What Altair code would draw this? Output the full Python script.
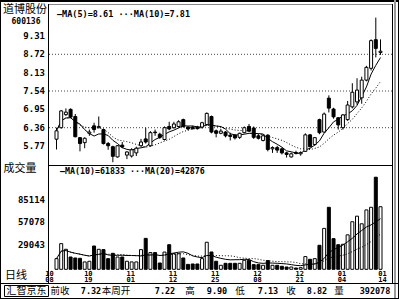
import altair as alt
import pandas as pd

# ---------------- data ----------------
opens = [5.99, 6.36, 6.78, 6.95, 6.72, 6.04, 5.88, 6.18, 6.42, 6.36,
         6.30, 5.85, 5.75, 5.42, 5.80, 5.48, 5.45, 5.55, 5.78, 6.00,
         5.78, 6.22, 6.15, 5.98, 6.40, 6.36, 6.40, 6.62, 6.38, 6.38,
         6.38, 6.38, 6.46, 6.72, 6.26, 6.18, 6.22, 6.12, 6.12, 6.05,
         6.20, 6.40, 6.35, 6.10, 5.95, 6.12, 5.68, 5.72, 5.68, 5.55,
         5.42, 5.56, 5.52, 5.60, 6.13, 5.82, 6.62, 6.22, 7.31, 6.96,
         6.68, 6.36, 6.62, 7.03, 7.19, 7.32, 7.89, 8.27, 9.19, 8.78]
closes = [6.26, 6.90, 6.86, 6.70, 6.07, 5.85, 6.02, 6.22, 6.30, 6.40,
          5.85, 5.78, 5.44, 5.78, 5.74, 5.58, 5.65, 5.70, 5.90, 5.90,
          6.20, 6.20, 6.05, 6.36, 6.32, 6.48, 6.55, 6.40, 6.32, 6.33,
          6.33, 6.52, 6.82, 6.22, 6.18, 6.25, 6.10, 6.08, 6.03, 6.18,
          6.36, 6.25, 6.05, 6.02, 6.10, 5.66, 5.72, 5.64, 5.55, 5.50,
          5.52, 5.53, 5.56, 6.13, 5.75, 6.04, 6.20, 6.80, 6.99, 6.71,
          6.45, 6.77, 7.09, 7.50, 7.57, 7.89, 8.30, 9.16, 8.91, 8.82]
highs = [6.36, 6.93, 6.98, 6.98, 6.80, 6.06, 6.05, 6.30, 6.52, 6.72,
         6.33, 5.90, 5.78, 5.80, 5.90, 5.60, 5.70, 5.75, 6.00, 6.36,
         6.25, 6.30, 6.20, 6.40, 6.55, 6.55, 6.60, 6.65, 6.40, 6.42,
         6.42, 6.55, 6.85, 6.75, 6.30, 6.32, 6.25, 6.20, 6.15, 6.20,
         6.40, 6.48, 6.40, 6.15, 6.15, 6.15, 5.76, 5.78, 5.72, 5.58,
         5.56, 5.62, 5.60, 6.18, 6.16, 6.06, 6.65, 6.85, 7.40, 7.00,
         6.70, 6.80, 7.22, 7.79, 7.95, 8.00, 8.35, 9.20, 9.90, 9.20]
lows = [5.66, 6.33, 6.74, 6.68, 6.05, 5.60, 5.70, 6.10, 6.20, 6.34,
        5.82, 5.65, 5.25, 5.40, 5.70, 5.35, 5.40, 5.45, 5.75, 5.85,
        5.75, 6.10, 6.00, 5.95, 6.28, 6.33, 6.38, 6.36, 6.28, 6.30,
        6.30, 6.33, 6.42, 6.18, 6.05, 6.15, 6.05, 5.95, 5.98, 6.00,
        6.18, 6.22, 6.00, 5.98, 5.92, 5.60, 5.55, 5.55, 5.50, 5.40,
        5.40, 5.50, 5.46, 5.58, 5.72, 5.78, 6.15, 6.20, 6.85, 6.65,
        6.30, 6.30, 6.58, 6.98, 7.10, 7.13, 7.85, 8.20, 8.62, 8.70]
volumes = [13000, 31300, 24400, 15000, 13800, 13400, 9000, 9800, 28400, 24400,
           24000, 13000, 19500, 15000, 15000, 9800, 9000, 9000, 24000, 37700,
           20400, 20400, 7700, 21000, 30000, 19000, 19000, 13800, 6000, 6500,
           6500, 13000, 33000, 21100, 9800, 4900, 7300, 7300, 7300, 7300,
           11000, 11000, 5700, 5700, 4900, 10600, 4900, 4900, 3700, 2800,
           2800, 1600, 2000, 15500, 12200, 13000, 29300, 49900, 75600, 37400,
           30000, 30500, 42000, 58000, 64800, 55500, 72400, 75600, 112300, 76300]

price_ticks = [9.31, 8.72, 8.13, 7.54, 6.95, 6.36, 5.77]
price_grid = [8.72, 7.54, 6.36]
vol_ticks = [85114, 57078, 29043]

date_idx = [0, 7, 16, 25, 34, 43, 52, 61, 69]
date_month = ["10", "10", "11", "11", "11", "12", "12", "01", "01"]
date_day = ["08", "19", "01", "12", "25", "08", "21", "04", "14"]

stock_name = "道博股份"
stock_code = "600136"
price_legend = "—MA(5)=8.61 ···MA(10)=7.81"
vol_legend = "—MA(10)=61833 ···MA(20)=42876"
status_items = [("前收", 60), ("7.32", 91), ("本周开", 116),
                ("7.22", 165), ("高", 190), ("9.90", 217), ("低", 240),
                ("7.13", 268), ("收", 291), ("8.82", 317), ("量", 339),
                ("392078", 375)]
status_box_text = "汇智京东"

# ---------------- tables ----------------
df = pd.DataFrame({"idx": list(range(len(opens))), "open": opens, "close": closes,
                   "high": highs, "low": lows, "vol": volumes})
df["up"] = df["close"] >= df["open"]

NUM = "DejaVu Sans Mono"
CJK = "Noto Sans CJK SC"

XS = alt.Scale(domain=[0, 69], range=[51.5, 385.5], zero=False, nice=False)
PY = alt.Scale(domain=[5.77, 9.31], range=[146.05, 35.96], zero=False, nice=False)
VY = alt.Scale(domain=[0, 85114], range=[269.3, 199.5], zero=False, nice=False)

x_enc = alt.X("idx:Q", scale=XS, axis=None)
base = alt.Chart(df)

# ---------------- price panel ----------------
grid = alt.Chart(pd.DataFrame({"p": price_grid})).mark_rule(
    color="#444", strokeWidth=1, strokeDash=[1, 2]).encode(
    y=alt.Y("p:Q", scale=PY, axis=None), x=alt.value(49), x2=alt.value(392))

wicks = base.mark_rule(color="black", strokeWidth=1).encode(
    x=x_enc, y=alt.Y("low:Q", scale=PY, axis=None), y2="high:Q")

up_body = base.transform_filter("datum.up").mark_bar(
    size=3, fill="white", stroke="black", strokeWidth=1).encode(
    x=x_enc, y=alt.Y("open:Q", scale=PY, axis=None), y2="close:Q")
dn_body = base.transform_filter("!datum.up").mark_bar(
    size=3, fill="black", stroke="black", strokeWidth=1).encode(
    x=x_enc, y=alt.Y("open:Q", scale=PY, axis=None), y2="close:Q")

ma5 = base.transform_window(ma="mean(close)", frame=[-4, 0], sort=[{"field": "idx"}]).mark_line(
    color="black", strokeWidth=1).encode(x=x_enc, y=alt.Y("ma:Q", scale=PY, axis=None))
ma10 = base.transform_window(ma="mean(close)", frame=[-9, 0], sort=[{"field": "idx"}]).mark_line(
    color="black", strokeWidth=1, strokeDash=[1, 2]).encode(x=x_enc, y=alt.Y("ma:Q", scale=PY, axis=None))

ptick = alt.Chart(pd.DataFrame({"p": price_ticks})).transform_calculate(
    lab="format(datum.p, '.2f')").mark_text(
    font=NUM, fontSize=9, fontWeight="bold", align="right", baseline="middle", color="black").encode(
    y=alt.Y("p:Q", scale=PY, axis=None), x=alt.value(45), text="lab:N")

price_layer = alt.layer(grid, ma10, ma5, wicks, up_body, dn_body, ptick)

# ---------------- volume panel ----------------
vup = base.transform_filter("datum.up").mark_bar(
    size=3, fill="white", stroke="black", strokeWidth=1).encode(
    x=x_enc, y=alt.Y("vol:Q", scale=VY, axis=None), y2=alt.datum(0))
vdn = base.transform_filter("!datum.up").mark_bar(
    size=3, fill="black", stroke="black", strokeWidth=1).encode(
    x=x_enc, y=alt.Y("vol:Q", scale=VY, axis=None), y2=alt.datum(0))
vma10 = base.transform_window(mv="mean(vol)", frame=[-9, 0], sort=[{"field": "idx"}]).mark_line(
    color="black", strokeWidth=1).encode(x=x_enc, y=alt.Y("mv:Q", scale=VY, axis=None))
vma20 = base.transform_window(mv="mean(vol)", frame=[-19, 0], sort=[{"field": "idx"}]).mark_line(
    color="black", strokeWidth=1, strokeDash=[1, 2]).encode(x=x_enc, y=alt.Y("mv:Q", scale=VY, axis=None))
vtick = alt.Chart(pd.DataFrame({"v": vol_ticks})).mark_text(
    font=NUM, fontSize=9, fontWeight="bold", align="right", baseline="middle", color="black").encode(
    y=alt.Y("v:Q", scale=VY, axis=None), x=alt.value(45), text="v:Q")

vol_layer = alt.layer(vup, vdn, vma10, vma20, vtick)

# ---------------- date labels (two-line, one text each) ----------------
ddf = pd.DataFrame({"idx": date_idx, "m": date_month, "d": date_day})
dchart = alt.Chart(ddf).transform_calculate(lab="datum.m + '\\n' + datum.d")
date_layers = []
for cond, dx in [("datum.idx == 0", -7), ("datum.idx > 0 && datum.idx < 69", -1), ("datum.idx == 69", 2)]:
    date_layers.append(dchart.transform_filter(cond).mark_text(
        font=NUM, fontSize=7, fontWeight="bold", baseline="top", align="center",
        lineBreak="\n", lineHeight=6.5, dx=dx, color="black").encode(
        x=x_enc, y=alt.value(269.5), text="lab:N"))

# ---------------- frame & texts ----------------
one = pd.DataFrame({"a": [0]})


def rule(x1, x2, y1, y2, color="black", w=1):
    return alt.Chart(one).mark_rule(color=color, strokeWidth=w).encode(
        x=alt.value(x1), x2=alt.value(x2), y=alt.value(y1), y2=alt.value(y2))


def label(txt, x, y, font=NUM, size=9, align="left", weight="bold"):
    return alt.Chart(one).mark_text(font=font, fontSize=size, align=align, baseline="middle",
                                    fontWeight=weight, color="black").encode(
        x=alt.value(x), y=alt.value(y), text=alt.value(txt))


frame = [
    rule(0, 399, 1, 1, w=2),
    rule(48, 393, 4.5, 4.5, color="#888"),
    rule(0.5, 0.5, 0, 299),
    rule(48.5, 48.5, 4, 283),
    rule(392.5, 392.5, 4, 283),
    rule(395, 395, 0, 299, color="#999", w=2),
    rule(398.5, 398.5, 0, 299),
    rule(48, 393, 165.5, 165.5),
    rule(0, 399, 283.5, 283.5),
    rule(0, 399, 298.5, 298.5),
    alt.Chart(one).mark_rect(fill="white", stroke="black", strokeWidth=1).encode(
        x=alt.value(4.5), x2=alt.value(48.5), y=alt.value(285.5), y2=alt.value(296.5)),
]

texts = [
    label(stock_name, 25, 10, font=CJK, size=11, align="center", weight="normal"),
    label(stock_code, 26, 21.5, size=8, align="center"),
    label(price_legend, 57, 13.5, size=8.5),
    label("成交量", 20, 169, font=CJK, size=11, align="center", weight="normal"),
    label(vol_legend, 60, 172, size=8.3),
    label("日线", 16, 276, font=CJK, size=11, align="center", weight="normal"),
    label(status_box_text, 26.5, 290.5, font=CJK, size=10, align="center", weight="normal"),
]
for txt, xc in status_items:
    is_cjk = any(ord(c) > 127 for c in txt)
    texts.append(label(txt, xc, 290.5, font=CJK if is_cjk else NUM,
                       size=9.5 if is_cjk else 8.5, align="center",
                       weight="normal" if is_cjk else "bold"))

deco = alt.layer(*frame, *texts, *date_layers)

chart = alt.layer(price_layer, vol_layer, deco).resolve_scale(y="independent").properties(
    width=399, height=299, padding=0, autosize=alt.AutoSizeParams(type="none"),
    background="white").configure_view(stroke=None)

chart.save("out.html", embed_options={"renderer": "svg", "actions": False})
